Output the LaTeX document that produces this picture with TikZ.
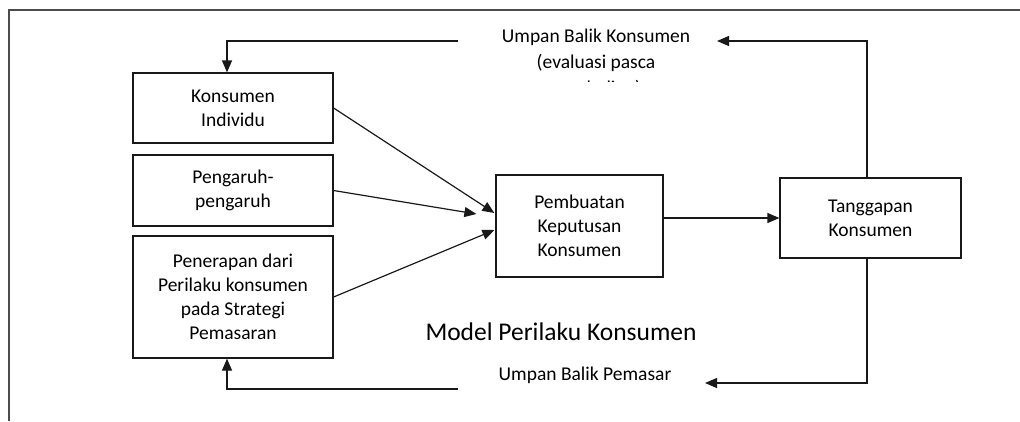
\documentclass[tikz,border=0pt]{standalone}
\usepackage{fontspec}
\setmainfont{Carlito}
\usetikzlibrary{arrows.meta,calc}
\begin{document}
\begin{tikzpicture}[x=1pt,y=-1pt,
  box/.style={draw=black!90, line width=1.2pt, inner sep=0pt, align=center, font=\fontsize{19.5}{24}\selectfont},
  lbl/.style={inner sep=0pt, align=center, font=\fontsize{19.5}{26}\selectfont},
  conn/.style={draw=black!90, line width=1.2pt, -{Triangle[length=12pt,width=10pt]}},
  framestyle/.style={draw=black!70, line width=1.5pt}]
\useasboundingbox (0,0) rectangle (1020,421);
% frame
\draw[framestyle] (8,10) -- (1020,10);
\draw[framestyle] (9,10) -- (9,421);
% boxes
\node[box, minimum width=200pt, minimum height=70pt] (ind) at (233,108) {Konsumen\\Individu};
\node[box, minimum width=200pt, minimum height=71pt] (peng) at (233,190.5) {Pengaruh-\\pengaruh};
\node[box, minimum width=200pt, minimum height=122pt] (pen) at (233,297) {Penerapan dari\\Perilaku konsumen\\pada Strategi\\Pemasaran};
\node[box, minimum width=167pt, minimum height=102pt] (pk) at (579.5,226) {Pembuatan\\Keputusan\\Konsumen};
\node[box, minimum width=181pt, minimum height=80pt] (tg) at (870.5,218) {Tanggapan\\Konsumen};
% labels
\begin{scope}
  \clip (400,15) rectangle (780,81.5);
  \node[lbl, anchor=north] (ubk) at (596,29) {Umpan Balik Konsumen\\(evaluasi pasca\\pembelian)};
\end{scope}
\node[lbl] (ubp) at (585,375) {Umpan Balik Pemasar};
\node[inner sep=0pt, font=\fontsize{25.5}{30}\selectfont] (title) at (561,332) {Model Perilaku Konsumen};
% connector ends
\coordinate (ubkR) at (717,41);
\coordinate (ubkL) at (458,41);
\coordinate (ubpR) at (705,383);
\coordinate (ubpL) at (458,389);
% connectors
\draw[conn] (ind.east) -- ($(pk.west)+(-1,-13)$);
\draw[conn] (peng.east) -- ($(pk.west)+(-19,-12)$);
\draw[conn] (pen.east) -- ($(pk.west)+(-1,4)$);
\draw[conn] (pk.east |- tg.west) -- (tg.west);
\draw[conn] ($(tg.north)+(-3.5,0)$) |- (ubkR);
\draw[conn] (ubkL) -| ($(ind.north)+(-6,0)$);
\draw[conn] ($(tg.south)+(-3.5,0)$) |- (ubpR);
\draw[conn] (ubpL) -| ($(pen.south)+(-6,0)$);
\end{tikzpicture}
\end{document}
